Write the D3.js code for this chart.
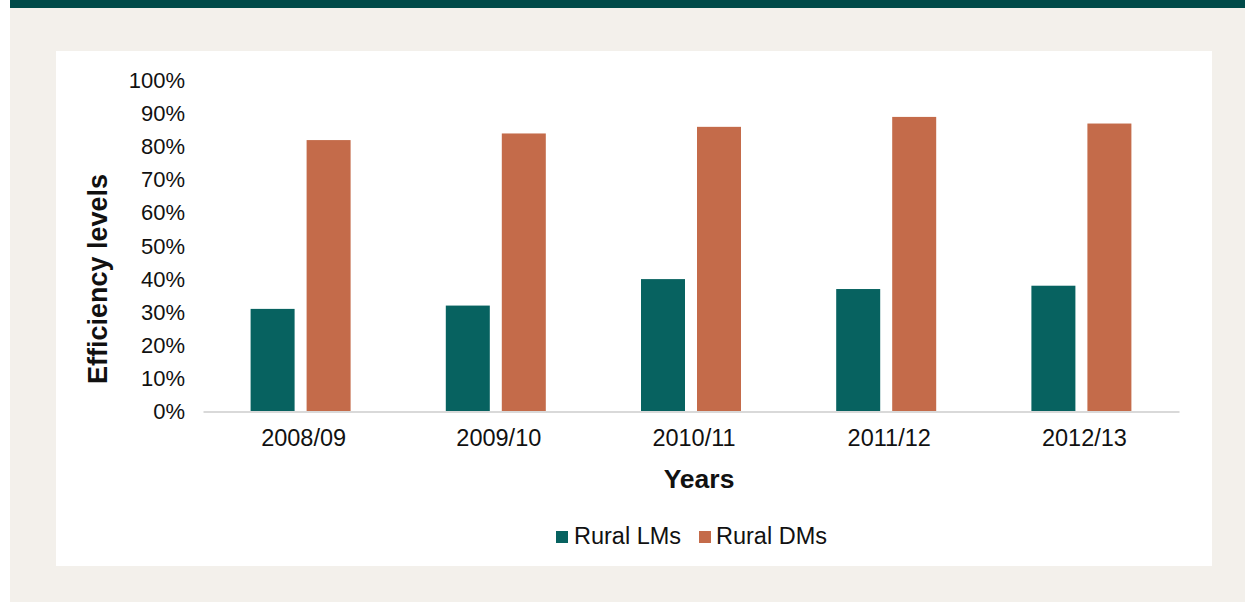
<!DOCTYPE html>
<html>
<head>
<meta charset="utf-8">
<script src="https://cdn.jsdelivr.net/npm/d3@7/dist/d3.min.js"></script>
<style>
  html, body { margin: 0; padding: 0; background: #ffffff; }
  svg { display: block; font-family: "Liberation Sans", Arial, sans-serif; }
</style>
</head>
<body>
<svg id="chart" width="1245" height="602"></svg>
<script>
// Data: efficiency levels by financial year
const years = ["2008/09", "2009/10", "2010/11", "2011/12", "2012/13"];
const seriesNames = ["Rural LMs", "Rural DMs"];
const ruralLMs = [0.31, 0.32, 0.40, 0.37, 0.38];
const ruralDMs = [0.82, 0.84, 0.86, 0.89, 0.87];
const yTicks = [0, 0.1, 0.2, 0.3, 0.4, 0.5, 0.6, 0.7, 0.8, 0.9, 1.0];
const seriesColors = ["#076260", "#C46B4A"];

const seriesValues = [ruralLMs, ruralDMs];
const rows = years.map((yr, i) => ({
  year: yr,
  values: seriesNames.map((s, j) => ({ series: s, value: seriesValues[j][i] }))
}));

const svg = d3.select("#chart");

// Page frame: beige backdrop, dark header rule, white card
svg.append("rect").attr("x", 10).attr("y", 0).attr("width", 1235).attr("height", 602).attr("fill", "#F3F0EB");
svg.append("rect").attr("x", 10).attr("y", 0).attr("width", 1235).attr("height", 8).attr("fill", "#004A48");
svg.append("rect").attr("x", 56).attr("y", 51).attr("width", 1156).attr("height", 515).attr("fill", "#ffffff");

const plot = { left: 203, right: 1179, top: 80.5, bottom: 411.5 };

const x0 = d3.scaleBand().domain(years).range([plot.left, plot.right]).padding(0);
const y = d3.scaleLinear().domain([0, 1]).range([plot.bottom, plot.top]);

// Bars inside each year: 100px wide pair with a 12px gap
const pairWidth = 100;
const x1 = d3.scaleBand().domain(seriesNames).range([0, pairWidth]).paddingInner(0.2143).paddingOuter(0);
const color = d3.scaleOrdinal().domain(seriesNames).range(seriesColors);

const groups = svg.append("g").selectAll("g")
  .data(rows)
  .join("g")
  .attr("transform", d => `translate(${x0(d.year) + x0.bandwidth() / 2 - pairWidth / 2},0)`);

groups.selectAll("rect")
  .data(d => d.values)
  .join("rect")
  .attr("x", d => x1(d.series))
  .attr("width", x1.bandwidth())
  .attr("y", d => y(d.value))
  .attr("height", d => y(0) - y(d.value))
  .attr("fill", d => color(d.series));

// Y axis: percentage labels only
const yAxis = d3.axisLeft(y).tickValues(yTicks).tickFormat(d3.format(".0%")).tickSize(0).tickPadding(0);
const yG = svg.append("g").attr("transform", `translate(185,0)`).call(yAxis);
yG.select(".domain").remove();
yG.selectAll("text").attr("font-size", 22).attr("fill", "#111").attr("font-family", "Liberation Sans, Arial, sans-serif");

// X axis: light baseline and year labels
const xAxis = d3.axisBottom(x0).tickSize(0).tickPadding(18);
const xG = svg.append("g").attr("transform", `translate(0,${plot.bottom})`).call(xAxis);
xG.select(".domain").attr("stroke", "#D9D9D9").attr("stroke-width", 2);
xG.selectAll("text").attr("font-size", 23.5).attr("dx", 3).attr("fill", "#111").attr("font-family", "Liberation Sans, Arial, sans-serif");

// Axis titles
svg.append("text")
  .attr("transform", `translate(107,279) rotate(-90)`)
  .attr("text-anchor", "middle")
  .attr("font-size", 27).attr("font-weight", "bold").attr("fill", "#111")
  .text("Efficiency levels");

svg.append("text")
  .attr("x", 699).attr("y", 488)
  .attr("text-anchor", "middle")
  .attr("font-size", 26.5).attr("font-weight", "bold").attr("fill", "#111")
  .text("Years");

// Legend
const legendItems = [
  { name: seriesNames[0], sx: 556, tx: 574 },
  { name: seriesNames[1], sx: 699, tx: 716 }
];
const legend = svg.append("g").selectAll("g").data(legendItems).join("g");
legend.append("rect")
  .attr("x", d => d.sx).attr("y", 531).attr("width", 12).attr("height", 12)
  .attr("fill", d => color(d.name));
legend.append("text")
  .attr("x", d => d.tx).attr("y", 544)
  .attr("font-size", 23.5).attr("fill", "#111")
  .text(d => d.name);
</script>
</body>
</html>
